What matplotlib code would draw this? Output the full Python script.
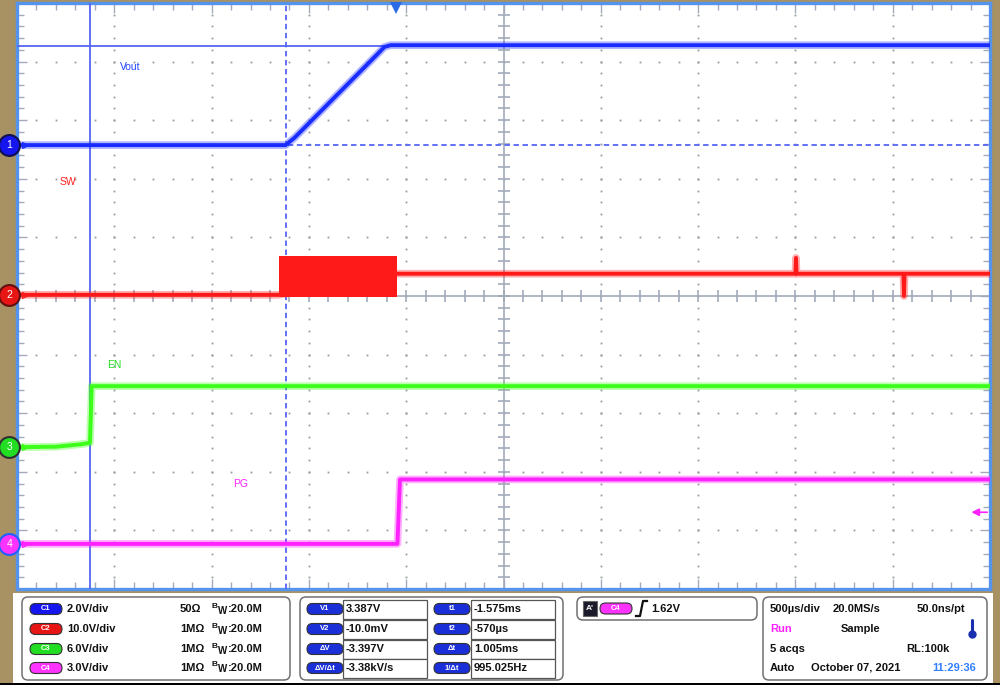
import numpy as np
import matplotlib
matplotlib.use("Agg")
import matplotlib.pyplot as plt
from matplotlib.patches import FancyBboxPatch, Rectangle
from matplotlib.transforms import blended_transform_factory

plt.rcParams['font.family'] = ['Liberation Sans', 'DejaVu Sans']

W, H = 1000, 685

# scope settings
t_left, t_div = -1.95, 0.5          # ms
ch_offset = [7.58, 5.02, 2.42, 0.77]  # divisions from bottom
ch_scale = [2.0, 10.0, 6.0, 3.0]     # V/div
ch_color = ['#1a2cff', '#ff1a1a', '#3cff1a', '#ff22ff']

# traces (time in ms, volts)
vout_t = [-1.95, -0.57, -0.524, -0.4, -0.3, -0.2, -0.1, -0.062, -0.03, 3.05]
vout_v = [-0.01, -0.01, 0.24, 1.07, 1.74, 2.41, 3.08, 3.34, 3.40, 3.40]

sw_t = [-1.95, -0.606, 0.005, 2.05, 2.053, 2.056, 2.605, 2.608, 2.611, 3.05]
sw_v = [0.0, 0.0, 3.6, 3.6, 6.3, 3.6, 3.6, -0.2, 3.6, 3.6]
sw_burst_t = [-0.606, 0.005]
sw_burst_lo = [-0.4, -0.4]
sw_burst_hi = [6.6, 6.6]

en_t = [-1.95, -1.75, -1.62, -1.575, -1.566, 3.05]
en_v = [0.0, 0.05, 0.3, 0.45, 6.25, 6.25]

pg_t = [-1.95, 0.005, 0.018, 3.05]
pg_v = [0.0, 0.0, 3.3, 3.3]

# cursors
t1, t2 = -1.575, -0.570
v1, v2 = 3.387, -0.010
trig_level = 1.62

labels = [("Vout", -1.37, 8.91), ("SW", -1.69, 6.95), ("EN", -1.45, 3.82), ("PG", -0.80, 1.79)]

def ch(v, k):
    return ch_offset[k] + np.asarray(v) / ch_scale[k]

fig = plt.figure(figsize=(10, 6.85), dpi=100, facecolor='#a89162')
ax = fig.add_axes([17 / W, 1 - 589 / H, 973 / W, 586 / H])
ax.set_facecolor('white')
ax.set_xlim(t_left, t_left + 10 * t_div)
ax.set_ylim(0, 10)
for s in ax.spines.values():
    s.set_color('#5594ec')
    s.set_linewidth(2.4)

gc = '#a3abbb'
xmaj = t_left + t_div * np.arange(11)
xmin = t_left + t_div / 5 * np.arange(51)
ymaj = np.arange(11)
ymin = np.arange(51) / 5
ax.set_xticks(xmaj)
ax.set_xticks(xmin, minor=True)
ax.set_yticks(ymaj)
ax.set_yticks(ymin, minor=True)
ax.tick_params(which='both', direction='in', top=True, right=True, color=gc,
               labelbottom=False, labelleft=False, width=1)
ax.tick_params(which='major', length=7)
ax.tick_params(which='minor', length=5)

# dotted graticule
for i in range(1, 10):
    if i == 5:
        continue
    ax.plot(np.full(len(ymin) - 2, xmaj[i]), ymin[1:-1], ls='none', marker='s', ms=1.3,
            color='#9a9a9a', mew=0, zorder=1)
    ax.plot(xmin[1:-1], np.full(len(xmin) - 2, ymaj[i]), ls='none', marker='s', ms=1.3,
            color='#9a9a9a', mew=0, zorder=1)
xc = xmaj[5]
ax.axvline(xc, color=gc, lw=1.2, zorder=1)
ax.axhline(5, color=gc, lw=1.2, zorder=1)
ax.plot(np.full(len(ymin), xc), ymin, ls='none', marker='_', ms=8, color=gc, mew=1.2, zorder=1)
ax.plot(xmin, np.full(len(xmin), 5), ls='none', marker='|', ms=8, color=gc, mew=1.2, zorder=1)

# cursors
cc = '#5565f5'
ax.axvline(t1, color=cc, lw=1.3, zorder=3)
ax.axvline(t2, color=cc, lw=1.3, ls=(0, (3, 2)), zorder=3)
ax.axhline(ch(v1, 0), color=cc, lw=1.3, zorder=3)
ax.axhline(ch(v2, 0), color=cc, lw=1.3, ls=(0, (3, 2)), zorder=3)


def trace(t, v, k):
    y = ch(v, k)
    ax.plot(t, y, color=ch_color[k], lw=5.5, alpha=0.35, zorder=4)
    ax.plot(t, y, color=ch_color[k], lw=2.8, zorder=5)


trace(vout_t, vout_v, 0)
ax.fill_between(sw_burst_t, ch(sw_burst_lo, 1), ch(sw_burst_hi, 1), color=ch_color[1], lw=0, zorder=5)
trace(sw_t, sw_v, 1)
trace(en_t, en_v, 2)
trace(pg_t, pg_v, 3)

lab_col = ['#2244ff', '#ff2020', '#22dd22', '#ff22ff']
for (txt, lx, ly), c in zip(labels, lab_col):
    ax.text(lx, ly, txt, color=c, fontsize=7.5, ha='center', va='center', zorder=6)

# trigger markers
ax.plot(0, 9.91, marker='v', color='#2a6be6', ms=8, mew=0, clip_on=False, zorder=8)
bt = blended_transform_factory(ax.transAxes, ax.transData)
ty = ch(trig_level, 3)
ax.annotate('', xy=(0.978, ty), xytext=(1.0, ty), xycoords=bt, textcoords=bt,
            arrowprops=dict(arrowstyle='-|>', color=ch_color[3], lw=1.2, mutation_scale=11))

# channel markers
mk_fill = ['#1515f0', '#e81515', '#22dd22', '#ff33ff']
mk_edge = ['#101050', '#601010', '#303030', '#2060ff']
for k in range(4):
    y = ch_offset[k]
    ax.plot(-0.008, y, marker='o', ms=15, mfc=mk_fill[k], mec=mk_edge[k], mew=1.5,
            transform=bt, clip_on=False, zorder=9)
    ax.text(-0.008, y, str(k + 1), color='white', fontsize=7.5, ha='center', va='center',
            transform=bt, zorder=10)
    ax.plot(0.008, y, marker='>', ms=5, mfc='none', mec=ch_color[k], mew=0.9,
            transform=bt, clip_on=False, zorder=9)

# ---- info panel (pixel coordinates) ----
ov = fig.add_axes([0, 0, 1, 1], zorder=5)
ov.set_xlim(0, W)
ov.set_ylim(H, 0)
ov.axis('off')
ov.add_patch(Rectangle((13, 593), 980, 90, fc='white', ec='none', zorder=0))
ov.add_patch(Rectangle((0, 683), W, 2, fc='black', ec='none', zorder=0))


def box(x0, y0, x1, y1, r=6):
    ov.add_patch(FancyBboxPatch((x0, y0), x1 - x0, y1 - y0,
                                boxstyle=f'round,pad=0,rounding_size={r}',
                                fc='white', ec='#707070', lw=1.1, zorder=1))


def pill(x0, xc_, y, w, txt, fc):
    ov.add_patch(FancyBboxPatch((x0, y - 5.5), w, 11, boxstyle='round,pad=0,rounding_size=5.5',
                                fc=fc, ec='#333333', lw=0.8, zorder=2))
    ov.text(x0 + w / 2, y, txt, color='white', fontsize=5.5, fontweight='bold',
            ha='center', va='center', zorder=3)


def txt(x, y, s, c='#111111', fs=8):
    ov.text(x, y, s, color=c, fontsize=fs, fontweight='bold', ha='left', va='center', zorder=3)


rows = [609, 629, 649, 668]
box(22, 597, 290, 680)
ch_txt = ["2.0V/div", "10.0V/div", "6.0V/div", "3.0V/div"]
imp = ["50Ω", "1MΩ", "1MΩ", "1MΩ"]
for k, y in enumerate(rows):
    pill(30, 0, y, 32, f"C{k + 1}", mk_fill[k])
    txt(67, y, ch_txt[k])
    txt(180, y, imp[k])
    txt(212, y - 3, "B", fs=6)
    txt(218, y + 1.5, "W", fs=7)
    txt(228, y, ":20.0M")

box(300, 597, 563, 680)
meas_l = ["V1", "V2", "ΔV", "ΔV/Δt"]
meas_lv = ["3.387V", "-10.0mV", "-3.397V", "-3.38kV/s"]
meas_r = ["t1", "t2", "Δt", "1/Δt"]
meas_rv = ["-1.575ms", "-570µs", "1.005ms", "995.025Hz"]
for k, y in enumerate(rows):
    pill(307, 0, y, 36, meas_l[k], '#1a2fd8')
    ov.add_patch(Rectangle((343, y - 9.5), 84, 19, fc='white', ec='#555555', lw=0.9, zorder=2))
    txt(346, y, meas_lv[k])
    pill(434, 0, y, 36, meas_r[k], '#1a2fd8')
    ov.add_patch(Rectangle((471, y - 9.5), 84, 19, fc='white', ec='#555555', lw=0.9, zorder=2))
    txt(474, y, meas_rv[k])

box(577, 597, 757, 620)
ov.add_patch(Rectangle((583, 601), 14, 15, fc='#1a1a2a', ec='#666666', lw=0.8, zorder=2))
ov.text(590, 608.5, "A'", color='white', fontsize=6, fontweight='bold', ha='center', va='center', zorder=3)
pill(600, 0, 608.5, 32, "C4", '#ff33ff')
ov.plot([636, 640, 643, 647], [616, 616, 601, 601], color='#111111', lw=1.6, zorder=3)
txt(651, 608.5, "1.62V")

box(763, 597, 987, 680)
txt(770, rows[0], "500µs/div")
txt(833, rows[0], "20.0MS/s")
txt(917, rows[0], "50.0ns/pt")
txt(770, rows[1], "Run", c='#ff22ff')
txt(841, rows[1], "Sample")
ov.plot([971.5, 971.5], [620, 633], color='#1a2fb0', lw=2.2, solid_capstyle='round', zorder=3)
ov.plot(971.5, 634, marker='o', ms=5, color='#1a2fb0', zorder=3)
txt(770, rows[2], "5 acqs")
txt(906, rows[2], "RL:100k")
txt(770, rows[3], "Auto")
txt(811, rows[3], "October 07, 2021")
txt(932, rows[3], "11:29:36", c='#2f7fff')

fig.savefig("out.png", dpi=100, facecolor=fig.get_facecolor())
